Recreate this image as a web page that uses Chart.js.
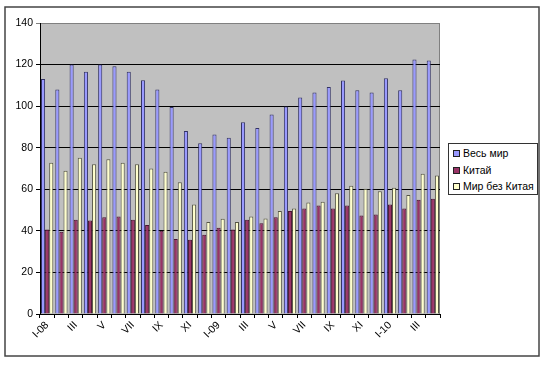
<!DOCTYPE html>
<html>
<head>
<meta charset="utf-8">
<script src="https://cdn.jsdelivr.net/npm/chart.js@4"></script>
<style>
  body { margin: 0; background: #fff; }
  #wrap { position: relative; width: 547px; height: 369px; }
  #legend {
    position: absolute; left: 448px; top: 143px; width: 88px; height: 50px;
    border: 1px solid #333; background: #fff;
    font-family: "Liberation Sans", Arial, sans-serif; font-size: 10.5px; color: #000;
  }
  #legend div { position: absolute; left: 4px; height: 14px; line-height: 14px; white-space: nowrap; }
  #legend span { display: inline-block; width: 5px; height: 5px; border: 1px solid #222; margin-right: 3px; vertical-align: 0px; }
</style>
</head>
<body>
<div id="wrap">
  <canvas id="myChart" width="547" height="369"></canvas>
  <div id="legend"></div>
</div>
<script>
// months I-08 .. IV-10, only every second one gets a label
const months = ['I-08', 'II', 'III', 'IV', 'V', 'VI', 'VII', 'VIII', 'IX', 'X', 'XI', 'XII',
                'I-09', 'II', 'III', 'IV', 'V', 'VI', 'VII', 'VIII', 'IX', 'X', 'XI', 'XII',
                'I-10', 'II', 'III', 'IV'];

const seriesNames = ['Весь мир', 'Китай', 'Мир без Китая'];

const world = [113, 108, 120, 116.5, 120, 119.2, 116.6, 112.4, 108, 99.6, 88, 82.2, 86.4, 84.8,
               92.3, 89.5, 96, 99.8, 104.1, 106.6, 109.2, 112.3, 107.6, 106.6, 113.4, 107.6, 122.4, 121.9];
const china = [40.6, 39.6, 45.3, 45, 46.6, 46.9, 45.3, 42.8, 40.1, 36.1, 35.7, 38.1, 41.5, 40.6,
               45.4, 43.6, 46.6, 49.5, 50.7, 52.2, 50.7, 52.2, 47.4, 47.9, 52.7, 50.7, 55, 55.5];
const worldExChina = [72.8, 68.9, 75.2, 72, 74.4, 72.8, 72, 70, 68.4, 63.4, 52.7, 44.3, 45.8, 44.3,
                      46.9, 45.9, 49.6, 50.7, 53.7, 54, 58.1, 61.7, 60.2, 59.1, 60.7, 57.3, 67.5, 66.6];

const yTicks = [0, 20, 40, 60, 80, 100, 120, 140];

const fills = ['#9999ff', '#993366', '#ffffcc'];
const borders = ['#333366', '#4a1430', '#555544'];

// background, grey plot area and the frame round the whole picture
const framePlugin = {
    id: 'frame',
    beforeDraw(chart) {
        const ctx = chart.ctx;
        const a = chart.chartArea;
        ctx.save();
        ctx.fillStyle = '#fff';
        ctx.fillRect(0, 0, chart.width, chart.height);
        ctx.fillStyle = '#c0c0c0';
        ctx.fillRect(a.left, a.top, a.right - a.left, a.bottom - a.top);
        ctx.strokeStyle = '#808080';
        ctx.lineWidth = 1;
        ctx.strokeRect(a.left + 0.5, a.top + 0.5, a.right - a.left - 1, a.bottom - a.top);
        ctx.strokeStyle = '#444';
        ctx.lineWidth = 1.5;
        ctx.strokeRect(5, 7, 534, 349);
        ctx.restore();
    }
};

const datasets = [world, china, worldExChina].map((values, i) => ({
    label: seriesNames[i],
    data: values,
    backgroundColor: fills[i],
    borderColor: borders[i],
    borderWidth: 1,
    categoryPercentage: 0.86,
    barPercentage: 1
}));

new Chart(document.getElementById('myChart'), {
    type: 'bar',
    data: { labels: months, datasets: datasets },
    options: {
        responsive: false,
        animation: false,
        layout: { padding: { left: 0, right: 107, top: 23, bottom: 0 } },
        plugins: { legend: { display: false }, tooltip: { enabled: false } },
        scales: {
            x: {
                afterFit: (scale) => { scale.height = 55; },
                border: { color: '#000' },
                grid: { display: true, drawOnChartArea: false, offset: true, tickLength: 4, color: '#000' },
                ticks: {
                    autoSkip: false,
                    maxRotation: 45,
                    minRotation: 45,
                    padding: 1,
                    color: '#000',
                    font: { family: '"Liberation Sans", Arial, sans-serif', size: 10.5 },
                    callback: function (value, index) { return index % 2 === 0 ? months[index] : ''; }
                }
            },
            y: {
                min: 0,
                max: 140,
                afterFit: (scale) => { scale.width = 40; },
                afterBuildTicks: (scale) => { scale.ticks = yTicks.map(v => ({ value: v })); },
                border: { color: '#000' },
                grid: {
                    tickLength: 4,
                    color: (c) => (c.tick && c.tick.value === 140 ? '#808080' : '#000')
                },
                ticks: {
                    padding: 3,
                    color: '#000',
                    font: { family: '"Liberation Sans", Arial, sans-serif', size: 10.5 }
                }
            }
        }
    },
    plugins: [framePlugin]
});

// legend built from the same names and colours
const legend = document.getElementById('legend');
seriesNames.forEach((name, i) => {
    const row = document.createElement('div');
    row.style.top = (2 + i * 16.5) + 'px';
    row.innerHTML = '<span style="background:' + fills[i] + '"></span>' + name;
    legend.appendChild(row);
});
</script>
</body>
</html>
